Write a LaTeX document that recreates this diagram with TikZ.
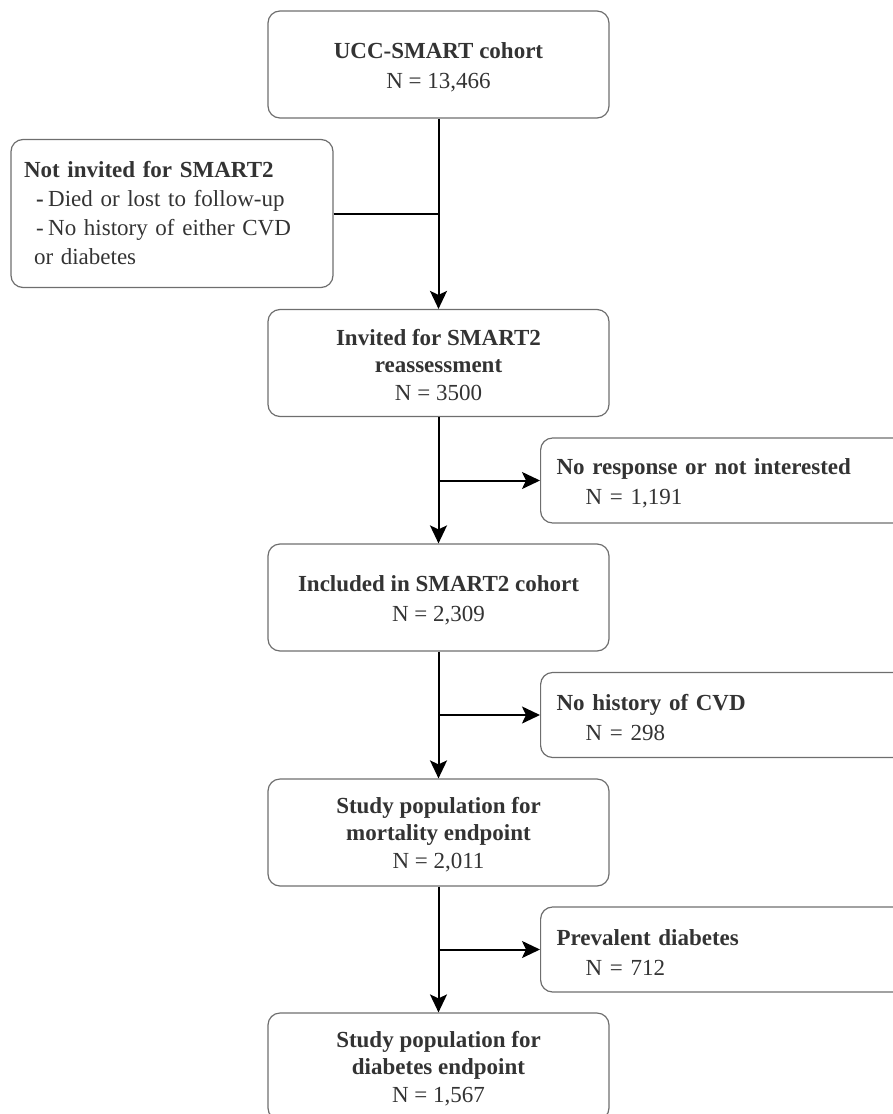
\documentclass[tikz,border=0pt]{standalone}
\usepackage{fontspec}
\setmainfont{Liberation Serif}
\usetikzlibrary{arrows.meta}
\definecolor{txt}{HTML}{333333}
\definecolor{edge}{HTML}{6E6E6E}
\newcommand{\upstrut}{\rule{0pt}{21.5pt}}
\newcommand{\tallstrut}{\rule{0pt}{20pt}}
\begin{document}
\begin{tikzpicture}[x=1pt,y=-1pt,
  box/.style={draw=edge, line width=1.2pt, rounded corners=12pt, text=txt, font=\fontsize{23}{30}\selectfont},
  mainbox/.style={box, minimum width=341pt, minimum height=107pt, align=center, inner sep=0pt},
  tallbox/.style={mainbox, font=\fontsize{23}{27.5}\selectfont},
  sidebox/.style={box, anchor=west, text width=348pt, inner xsep=16pt, inner ysep=0pt, minimum height=85pt, align=left},
  flow/.style={line width=2pt, draw=black, -{Stealth[length=18pt,width=17pt,inset=4pt]}},
  link/.style={line width=2pt, draw=black}]
\useasboundingbox (0,0) rectangle (893,1114);
\clip (0,0) rectangle (893,1114);

\node[mainbox] (b1) at (438.5,64.5) {\upstrut\textbf{UCC-SMART cohort}\\N = 13,466};
\node[box, minimum width=322pt, minimum height=148pt, text width=296pt, inner xsep=13pt, inner ysep=0pt, align=left, font=\fontsize{23}{29}\selectfont] (nb) at (172,213.5)
  {\textbf{Not invited for SMART2}\\
   \hspace*{12pt}\textbf{-}\hspace*{4.5pt}Died or lost to follow-up\\
   \hspace*{12pt}-\hspace*{4.5pt}No history of either CVD\\
   \hspace*{10pt}or diabetes};
\node[tallbox] (b2) at (438.5,363) {\tallstrut\textbf{Invited for SMART2}\\\textbf{reassessment}\\N = 3500};
\node[sidebox] (r1) at (540,480.5) {\upstrut\textbf{No response or not interested}\\\hspace*{29pt}N = 1,191};
\node[mainbox] (b3) at (438.5,597.5) {\upstrut\textbf{Included in SMART2 cohort}\\N = 2,309};
\node[sidebox] (r2) at (540,715) {\upstrut\textbf{No history of CVD}\\\hspace*{29pt}N = 298};
\node[tallbox] (b4) at (438.5,832.5) {\tallstrut\textbf{Study population for}\\\textbf{mortality endpoint}\\N = 2,011};
\node[sidebox] (r3) at (540,949.5) {\upstrut\textbf{Prevalent diabetes}\\\hspace*{29pt}N = 712};
\node[tallbox] (b5) at (438.5,1066.5) {\tallstrut\textbf{Study population for}\\\textbf{diabetes endpoint}\\N = 1,567};

\coordinate (j1) at (b1.south |- nb.east);
\draw[link] (nb.east) -- (j1);
\draw[flow] (b1.south) -- (b2.north);

\draw[flow] (b2.south) -- (b3.north);
\coordinate (j2) at (b2.south |- r1.west);
\draw[flow] (j2) -- (r1.west);

\draw[flow] (b3.south) -- (b4.north);
\coordinate (j3) at (b3.south |- r2.west);
\draw[flow] (j3) -- (r2.west);

\draw[flow] (b4.south) -- (b5.north);
\coordinate (j4) at (b4.south |- r3.west);
\draw[flow] (j4) -- (r3.west);
\end{tikzpicture}
\end{document}
